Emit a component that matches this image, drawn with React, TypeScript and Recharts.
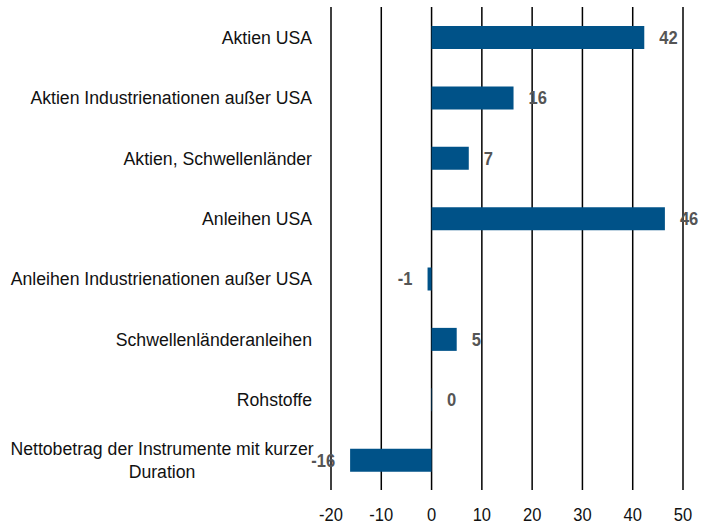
import * as React from "react";
import { Bar, BarChart, CartesianGrid, LabelList, XAxis, YAxis } from "recharts";

const categories = [
  "Aktien USA",
  "Aktien Industrienationen außer USA",
  "Aktien, Schwellenländer",
  "Anleihen USA",
  "Anleihen Industrienationen außer USA",
  "Schwellenländeranleihen",
  "Rohstoffe",
  "Nettobetrag der Instrumente mit kurzer\nDuration",
];

const values = [42.3, 16.3, 7.4, 46.4, -0.8, 5.0, 0.1, -16.2];

const xTicks = [-20, -10, 0, 10, 20, 30, 40, 50];

const data = categories.map((name, i) => ({ name, value: values[i] }));

const FONT = "'Liberation Sans', Arial, sans-serif";
const FONT_SIZE = 19;
// the reference uses a condensed face; squeeze a regular one horizontally
const SQUEEZE_TEXT = 0.93;
const SQUEEZE_NUM = 0.87;

function CategoryTick(props: any) {
  const { x, y, payload } = props;
  const lines = String(payload.value).split("\n");
  const multi = lines.length > 1;
  const ax = multi ? x - 11 - 150 : x - 11;
  return (
    <g transform={`translate(${ax},${y}) scale(${SQUEEZE_TEXT},1)`}>
      <text textAnchor={multi ? "middle" : "end"} fontFamily={FONT} fontSize={FONT_SIZE} fill="#111">
        {lines.map((l, i) => (
          <tspan key={i} x={0} y={(i - (lines.length - 1) / 2) * 23} dominantBaseline="central">
            {l}
          </tspan>
        ))}
      </text>
    </g>
  );
}

function NumberTick(props: any) {
  const { x, y, payload } = props;
  return (
    <g transform={`translate(${x},${y + 17}) scale(${SQUEEZE_NUM},1)`}>
      <text textAnchor="middle" dominantBaseline="central" fontFamily={FONT} fontSize={FONT_SIZE} fill="#111">
        {payload.value}
      </text>
    </g>
  );
}

function ValueLabel(props: any) {
  const { x, y, width, height, value } = props;
  const left = Math.min(x, x + width);
  const right = Math.max(x, x + width);
  const neg = value < 0;
  return (
    <g transform={`translate(${neg ? left - 15 : right + 15},${y + height / 2}) scale(${SQUEEZE_NUM},1)`}>
      <text
        textAnchor={neg ? "end" : "start"}
        dominantBaseline="central"
        fontFamily={FONT}
        fontSize={FONT_SIZE}
        fontWeight="bold"
        fill="#555"
      >
        {Math.round(value)}
      </text>
    </g>
  );
}

export default function App() {
  return (
    <div style={{ position: "absolute", left: 0, top: 0, background: "#fff" }}>
      <BarChart
        width={713}
        height={528}
        data={data}
        layout="vertical"
        margin={{ top: 7, right: 30, left: 0, bottom: 0 }}
        barSize={23}
      >
        <CartesianGrid horizontal={false} vertical={true} stroke="#000" strokeWidth={1.5} />
        <XAxis
          type="number"
          domain={[-20, 50]}
          ticks={xTicks}
          axisLine={false}
          tickLine={false}
          height={38}
          tick={<NumberTick />}
          interval={0}
        />
        <YAxis
          type="category"
          dataKey="name"
          width={331}
          axisLine={false}
          tickLine={false}
          tick={<CategoryTick />}
          interval={0}
        />
        <Bar dataKey="value" fill="#005288" isAnimationActive={false}>
          <LabelList dataKey="value" content={<ValueLabel />} />
        </Bar>
      </BarChart>
    </div>
  );
}
